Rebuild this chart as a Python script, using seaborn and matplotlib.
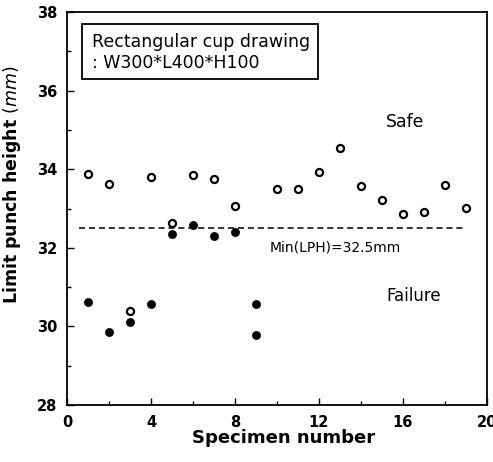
import matplotlib
matplotlib.use("Agg")
import matplotlib.pyplot as plt
import seaborn as sns
import pandas as pd
from matplotlib.ticker import MultipleLocator
from matplotlib.patches import Rectangle

# Safe (open circles)
safe_x = [1, 2, 3, 4, 5, 6, 7, 8, 10, 11, 12, 13, 14, 15, 16, 17, 18, 19]
safe_y = [33.87, 33.63, 30.40, 33.81, 32.64, 33.85, 33.75, 33.07, 33.49, 33.49,
          33.93, 34.54, 33.58, 33.22, 32.85, 32.92, 33.61, 33.02]
# Failure (filled circles)
fail_x = [1, 2, 3, 4, 5, 6, 7, 8, 9, 9]
fail_y = [30.63, 29.86, 30.12, 30.57, 32.35, 32.59, 32.30, 32.39, 30.57, 29.78]

min_lph = 32.5
x_ticks = [0, 4, 8, 12, 16, 20]
y_ticks = [28, 30, 32, 34, 36, 38]

sns.set_style("ticks")
plt.rcParams['font.family'] = ['DejaVu Sans']
plt.rcParams['mathtext.fontset'] = 'dejavusans'
plt.rcParams['text.color'] = 'black'
plt.rcParams['axes.labelcolor'] = 'black'
plt.rcParams['xtick.color'] = 'black'
plt.rcParams['ytick.color'] = 'black'

fig = plt.figure(figsize=(4.93, 4.62), dpi=100)
ax = fig.add_axes([0.1365, 0.1234, 0.8505, 0.8506])

df_safe = pd.DataFrame({"x": safe_x, "y": safe_y})
df_fail = pd.DataFrame({"x": fail_x, "y": fail_y})

sns.scatterplot(data=df_safe, x="x", y="y", ax=ax, s=26, marker="o",
                facecolor="white", edgecolor="black", linewidth=1.6, zorder=3)
sns.scatterplot(data=df_fail, x="x", y="y", ax=ax, s=34, marker="o",
                color="black", edgecolor="black", linewidth=0.5, zorder=3)

ax.plot([0.55, 19.0], [min_lph, min_lph], linestyle=(0, (4, 2.5)), color="black",
        linewidth=1.1, zorder=2)

ax.set_xlim(0, 20)
ax.set_ylim(28, 38)
ax.set_xticks(x_ticks)
ax.set_yticks(y_ticks)
ax.xaxis.set_minor_locator(MultipleLocator(2))
ax.yaxis.set_minor_locator(MultipleLocator(1))
ax.tick_params(which="both", direction="in", top=False, right=False, width=1.0,
               colors="black")
ax.tick_params(which="major", length=5, labelsize=10.5, pad=7)
ax.tick_params(which="minor", length=3)
for lab in ax.get_xticklabels() + ax.get_yticklabels():
    lab.set_fontweight("bold")

for sp in ax.spines.values():
    sp.set_visible(True)
    sp.set_linewidth(1.3)
    sp.set_color("black")

ax.set_xlabel("Specimen number", fontsize=13, fontweight="bold", color="black")
ax.xaxis.set_label_coords(0.515, -0.062)
ax.xaxis.label.set_va("top")
ax.set_ylabel("Limit punch height $\\it{(mm)}$", fontsize=12.5, fontweight="bold",
              color="black")
ax.yaxis.set_label_coords(-0.106, 0.56)

ax.add_patch(Rectangle((0.69, 36.29), 11.28, 1.40, facecolor="white",
                       edgecolor="black", linewidth=1.3, zorder=4))
ax.text(1.16, 36.97, "Rectangular cup drawing\n: W300*L400*H100", fontsize=12.5,
        ha="left", va="center", linespacing=1.15, zorder=5, color="black")
ax.text(16.1, 35.2, "Safe", fontsize=12.4, ha="center", va="center", color="black")
ax.text(16.5, 30.77, "Failure", fontsize=12, ha="center", va="center", color="black")
ax.text(12.77, 32.0, "Min(LPH)=32.5mm", fontsize=10, ha="center", va="center",
        color="black")

fig.savefig("out.png", dpi=100)
